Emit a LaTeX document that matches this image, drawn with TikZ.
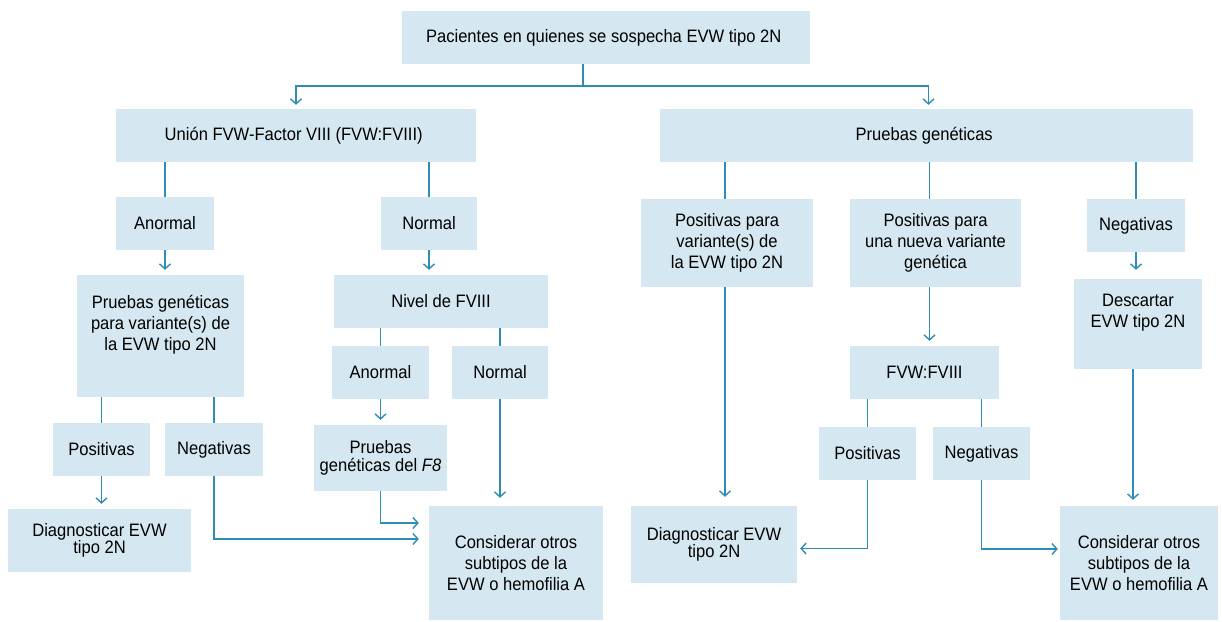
\documentclass[tikz,border=0pt]{standalone}
\usepackage{fontspec}
\setmainfont[FakeStretch=0.92]{Liberation Sans}
\usepackage{xcolor}
\usepackage{tikz}
\usetikzlibrary{arrows.meta}
\definecolor{cajaAzul}{HTML}{D5E8F1}
\definecolor{lineaAzul}{HTML}{2F8CB5}

\begin{document}
\begin{tikzpicture}[
        x=1pt, y=-1pt,
        caja/.style={
            fill=cajaAzul,
            draw=none,
            inner sep=0pt,
            align=center,
            font=\fontsize{18}{20.8}\selectfont
        },
        cajaJunta/.style={
            caja,
            font=\fontsize{18}{17.5}\selectfont
        },
        linea/.style={
            draw=lineaAzul,
            line width=1.4pt
        },
        flecha/.style={
            linea,
            -{Straight Barb[length=5pt,width=11pt,line width=1.4pt]},
            shorten >=5pt
        }
    ]

        % Marco de la figura
        \useasboundingbox (0,0) rectangle (1222,621);

        % =====================================================
        % NIVEL 1
        % =====================================================

        \node[caja, minimum width=408pt, minimum height=53pt] (sospecha) at (606,37.5) {
            Pacientes en quienes se sospecha EVW tipo 2N
        };

        \node[caja, minimum width=360pt, minimum height=53pt] (union) at (296,135.5) {
            Unión FVW-Factor VIII (FVW:FVIII)
        };

        \node[caja, minimum width=533pt, minimum height=53pt] (genetica) at (926.5,135.5) {
            Pruebas genéticas
        };

        % =====================================================
        % RAMA IZQUIERDA: unión FVW:FVIII
        % =====================================================

        \node[caja, minimum width=98pt, minimum height=53pt] (anormalA) at (165,223.5) {Anormal};
        \node[caja, minimum width=96pt, minimum height=53pt] (normalA) at (429,223.5) {Normal};

        \node[caja, minimum width=167pt, minimum height=122pt] (pruebasVar) at (160.5,336) {
            Pruebas genéticas\\
            para variante(s) de\\
            la EVW tipo 2N\\[6pt]
        };

        \node[caja, minimum width=214pt, minimum height=53pt] (nivel) at (441,301.5) {Nivel de FVIII};

        \node[caja, minimum width=97pt, minimum height=53pt] (positivasA) at (101.5,449.5) {Positivas};
        \node[caja, minimum width=98pt, minimum height=53pt] (negativasA) at (214,449.5) {Negativas};

        \node[caja, minimum width=97pt, minimum height=53pt] (anormalB) at (380.5,372.5) {Anormal};
        \node[caja, minimum width=96pt, minimum height=53pt] (normalB) at (500,372.5) {Normal};

        \node[cajaJunta, minimum width=133pt, minimum height=66pt] (pruebasF8) at (380.5,458) {
            Pruebas\\
            genéticas del \textit{F8}
        };

        \node[cajaJunta, minimum width=183pt, minimum height=63pt] (diagnosticoA) at (99.5,540.5) {
            Diagnosticar EVW\\
            tipo 2N
        };

        \node[caja, minimum width=174pt, minimum height=114pt] (otrosA) at (516,563) {
            Considerar otros\\
            subtipos de la\\
            EVW o hemofilia A
        };

        % =====================================================
        % RAMA DERECHA: pruebas genéticas
        % =====================================================

        \node[caja, minimum width=172pt, minimum height=88pt] (positivasVar) at (727,243) {
            Positivas para\\
            variante(s) de\\
            la EVW tipo 2N
        };

        \node[caja, minimum width=171pt, minimum height=88pt] (nuevaVar) at (935.5,243) {
            Positivas para\\
            una nueva variante\\
            genética
        };

        \node[caja, minimum width=98pt, minimum height=53pt] (negativasB) at (1136,225.5) {Negativas};

        \node[caja, minimum width=128pt, minimum height=90pt] (descartar) at (1138,324) {
            Descartar\\
            EVW tipo 2N\\[6pt]
        };

        \node[caja, minimum width=149pt, minimum height=53pt] (union2) at (924.5,372.5) {FVW:FVIII};

        \node[caja, minimum width=97pt, minimum height=53pt] (positivasC) at (867.5,453.5) {Positivas};
        \node[caja, minimum width=97pt, minimum height=53pt] (negativasC) at (981.5,453.5) {Negativas};

        \node[cajaJunta, minimum width=166pt, minimum height=77pt] (diagnosticoB) at (714,544.5) {
            Diagnosticar EVW\\
            tipo 2N
        };

        \node[caja, minimum width=158pt, minimum height=114pt] (otrosB) at (1139,563) {
            Considerar otros\\
            subtipos de la\\
            EVW o hemofilia A
        };

        % =====================================================
        % CONECTORES
        % =====================================================

        % Reparto desde la caja superior
        \coordinate (reparto) at (583,86);
        \draw[linea] (reparto |- sospecha.south) -- (reparto);
        \draw[flecha, shorten >=4pt] (reparto) -| (union.north);
        \draw[flecha, shorten >=4pt] (reparto) -| ([xshift=2pt]genetica.north);

        % Rama izquierda
        \draw[linea] (union.south -| anormalA) -- (anormalA.north);
        \draw[linea] (union.south -| normalA) -- (normalA.north);
        \draw[flecha] (anormalA.south) -- (anormalA |- pruebasVar.north);
        \draw[flecha] (normalA.south) -- (normalA |- nivel.north);

        \draw[linea] (pruebasVar.south -| positivasA) -- (positivasA.north);
        \draw[linea] (pruebasVar.south -| negativasA) -- (negativasA.north);
        \draw[linea] (nivel.south -| anormalB) -- (anormalB.north);
        \draw[linea] (nivel.south -| normalB) -- (normalB.north);

        \draw[flecha] (anormalB.south) -- (anormalB |- pruebasF8.north);
        \draw[flecha, shorten >=8pt] (normalB.south) -- (normalB |- otrosA.north);
        \draw[flecha] (positivasA.south) -- (positivasA |- diagnosticoA.north);
        \draw[flecha, shorten >=10pt] (negativasA.south) |- ([yshift=24pt]otrosA.west);
        \draw[flecha, shorten >=10pt] (pruebasF8.south) |- ([yshift=40pt]otrosA.west);

        % Rama derecha
        \draw[linea] ([xshift=-2pt]genetica.south -| positivasVar) -- ([xshift=-2pt]positivasVar.north);
        \draw[linea] ([xshift=-6pt]genetica.south -| nuevaVar) -- ([xshift=-6pt]nuevaVar.north);
        \draw[linea] (genetica.south -| negativasB) -- (negativasB.north);

        \draw[flecha, shorten >=9pt] (negativasB.south) -- (negativasB |- descartar.north);
        \draw[flecha, shorten >=9pt] ([xshift=-2pt]positivasVar.south) -- ([xshift=-2pt]positivasVar.south |- diagnosticoB.north);
        \draw[flecha] ([xshift=-6pt]nuevaVar.south) -- ([xshift=-6pt]nuevaVar.south |- union2.north);

        \draw[linea] (union2.south -| positivasC) -- (positivasC.north);
        \draw[linea] (union2.south -| negativasC) -- (negativasC.north);

        \draw[flecha, shorten >=3pt] (positivasC.south) |- ([yshift=-4pt]diagnosticoB.east);
        \draw[flecha, shorten >=2pt] (negativasC.south) |- ([yshift=14pt]otrosB.west);
        \draw[flecha, shorten >=6pt] ([xshift=-5pt]descartar.south) -- ([xshift=-5pt]descartar.south |- otrosB.north);

    \end{tikzpicture}
\end{document}
